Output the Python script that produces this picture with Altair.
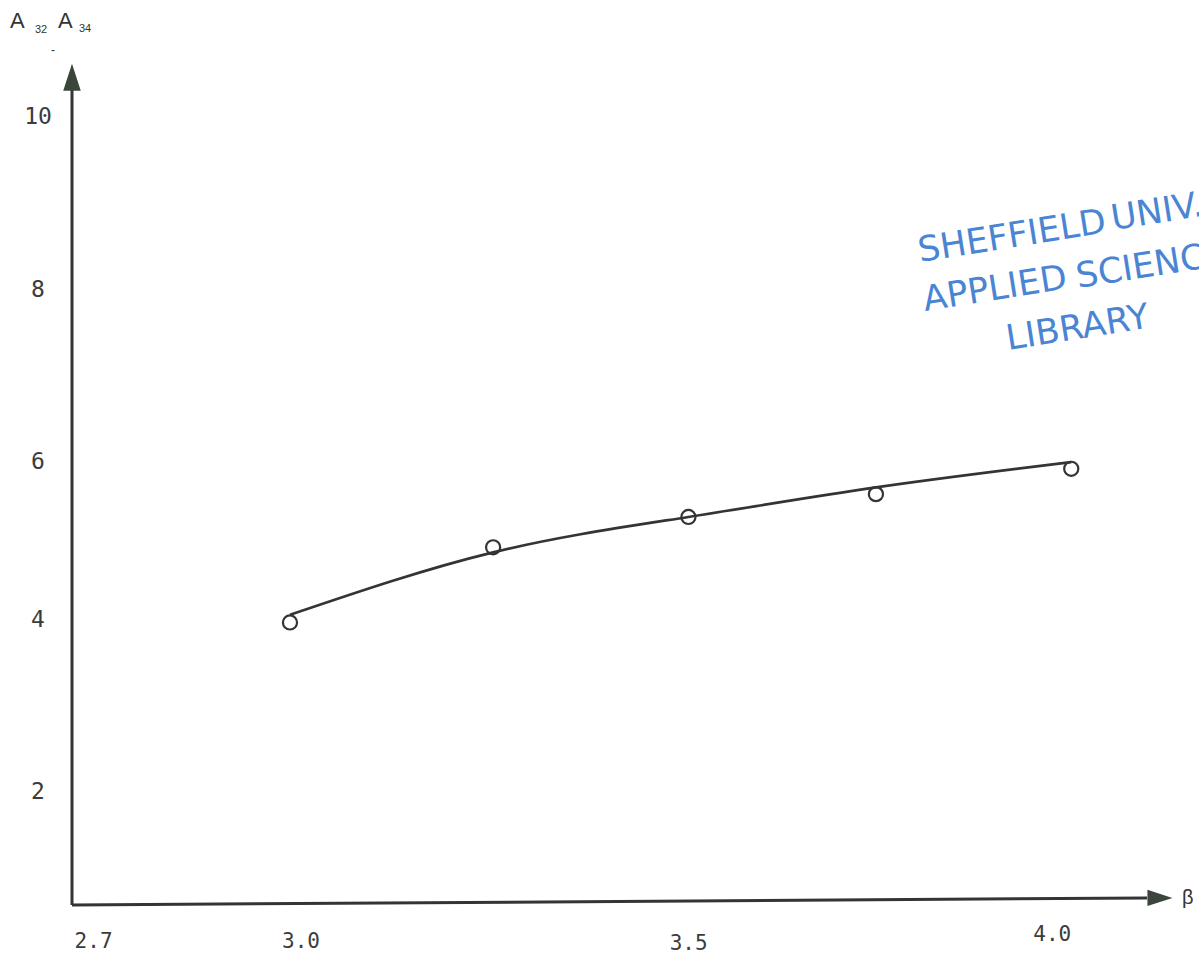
import altair as alt
import pandas as pd

# Measured points: beta against the product A32*A34
beta = [3.0, 3.26, 3.51, 3.75, 4.0]
a_product = [4.01, 4.90, 5.26, 5.53, 5.83]

# Smooth curve drawn through the measurements
fit_beta = [3.0, 3.26, 3.51, 3.75, 4.0]
fit_product = [4.10, 4.84, 5.26, 5.61, 5.91]

x_ticks = [2.7, 3.0, 3.5, 4.0]
y_ticks = [2, 4, 6, 8, 10]

# Plot extents (the axes start at the lower-left corner)
X_MIN, X_MAX = 2.721, 4.12
Y_MIN, Y_MAX = 0.661, 10.604
X_AXIS_END, X_AXIS_END_Y = 4.097, 0.744
Y_AXIS_END = 10.32

W, H = 1093, 839
INK = "#343434"
LABEL_INK = "#3c3c3c"
ARROW = "#3a463c"
STAMP = "#4a85d4"
TICK_FONT = "DejaVu Sans Mono"
STAMP_FONT = "DejaVu Sans"

# Typed tick labels sit a little off their nominal spots (dx, dy in pixels)
x_label_nudge = [(38, 37), (11, 37), (8, 39), (-19, 30)]
y_label_nudge = [(0, 0), (0, -3), (0, 8), (0, 4), (0, 0)]

x_scale = alt.Scale(domain=[X_MIN, X_MAX], nice=False, zero=False)
y_scale = alt.Scale(domain=[Y_MIN, Y_MAX], nice=False, zero=False)

points = pd.DataFrame({"beta": beta, "a": a_product})
fit = pd.DataFrame({"beta": fit_beta, "a": fit_product})


def X(f, **kw):
    return alt.X(f, type="quantitative", scale=x_scale, axis=None, **kw)


def Y(f, **kw):
    return alt.Y(f, type="quantitative", scale=y_scale, axis=None, **kw)


curve = alt.Chart(fit).mark_line(
    interpolate="natural", color=INK, strokeWidth=2.6
).encode(x=X("beta"), y=Y("a"))

markers = alt.Chart(points).mark_point(
    shape="circle", filled=False, size=200, strokeWidth=2.2, color=INK, opacity=1
).encode(x=X("beta"), y=Y("a"))

# Hand-drawn axes with arrow heads
y_line = alt.Chart(pd.DataFrame({"beta": [X_MIN], "a": [Y_MIN], "a2": [Y_AXIS_END]})).mark_rule(
    color=INK, strokeWidth=3
).encode(x=X("beta"), y=Y("a"), y2="a2")

x_line = alt.Chart(pd.DataFrame({"beta": [X_MIN], "b2": [X_AXIS_END], "a": [Y_MIN], "a2": [X_AXIS_END_Y]})).mark_rule(
    color=INK, strokeWidth=3
).encode(x=X("beta"), x2="b2", y=Y("a"), y2="a2")

up_arrow = alt.Chart(pd.DataFrame({"beta": [X_MIN], "a": [10.47]})).mark_point(
    shape="M0,-1L0.65,1L-0.65,1Z", filled=True, size=729, color=ARROW, opacity=1
).encode(x=X("beta"), y=Y("a"))

right_arrow = alt.Chart(pd.DataFrame({"beta": [4.1135], "a": [X_AXIS_END_Y]})).mark_point(
    shape="M1,0L-1,-0.65L-1,0.65Z", filled=True, size=625, color=ARROW, opacity=1
).encode(x=X("beta"), y=Y("a"))

# Tick labels
x_labels = [
    alt.Chart(pd.DataFrame({"beta": [v], "a": [Y_MIN]})).mark_text(
        font=TICK_FONT, fontSize=21, color=LABEL_INK, align="center", baseline="middle", dx=dx, dy=dy
    ).encode(x=X("beta"), y=Y("a"), text=alt.Text("beta:Q", format=".1f"))
    for v, (dx, dy) in zip(x_ticks, x_label_nudge)
]
y_labels = [
    alt.Chart(pd.DataFrame({"beta": [X_MIN], "a": [v]})).mark_text(
        font=TICK_FONT, fontSize=23, color=LABEL_INK, align="center", baseline="middle", dx=-34 + dx, dy=dy
    ).encode(x=X("beta"), y=Y("a"), text=alt.Text("a:Q", format="d"))
    for v, (dx, dy) in zip(y_ticks, y_label_nudge)
]


def label(text, x, y, size, color=INK, font="Liberation Sans", angle=0, baseline="alphabetic"):
    return alt.Chart(pd.DataFrame({"t": [text]})).mark_text(
        font=font, fontSize=size, color=color, align="left", baseline=baseline, angle=angle
    ).encode(x=alt.value(x), y=alt.value(y), text="t:N")


# Library stamp, tilted about 9 degrees; each word starts at its own baseline point
stamp_words = [
    ("SHEFFIELD", 848, 196), ("UNIV.", 1041, 164),
    ("APPLIED", 853, 245), ("SCIENCE", 1006, 222),
    ("LIBRARY", 936, 284),
]
stamp = [label(w, x, y, 35, color=STAMP, font=STAMP_FONT, angle=351) for w, x, y in stamp_words]

annotations = [
    label("A", -62, -38, 22),
    label("32", -37, -33, 11),
    label("A", -14, -38, 22),
    label("34", 7, -34, 11),
    label("-", -21, -12, 12),
    label("β", 1110, 832, 20, baseline="middle"),
]

chart = alt.layer(
    curve, x_line, y_line, up_arrow, right_arrow, markers,
    *x_labels, *y_labels, *annotations, *stamp
).properties(
    width=W, height=H, autosize="none", background="white",
    padding={"left": 72, "top": 66, "right": 34, "bottom": 52},
).configure_view(stroke=None)

chart.save("out.html", embed_options={"renderer": "svg", "actions": False})
